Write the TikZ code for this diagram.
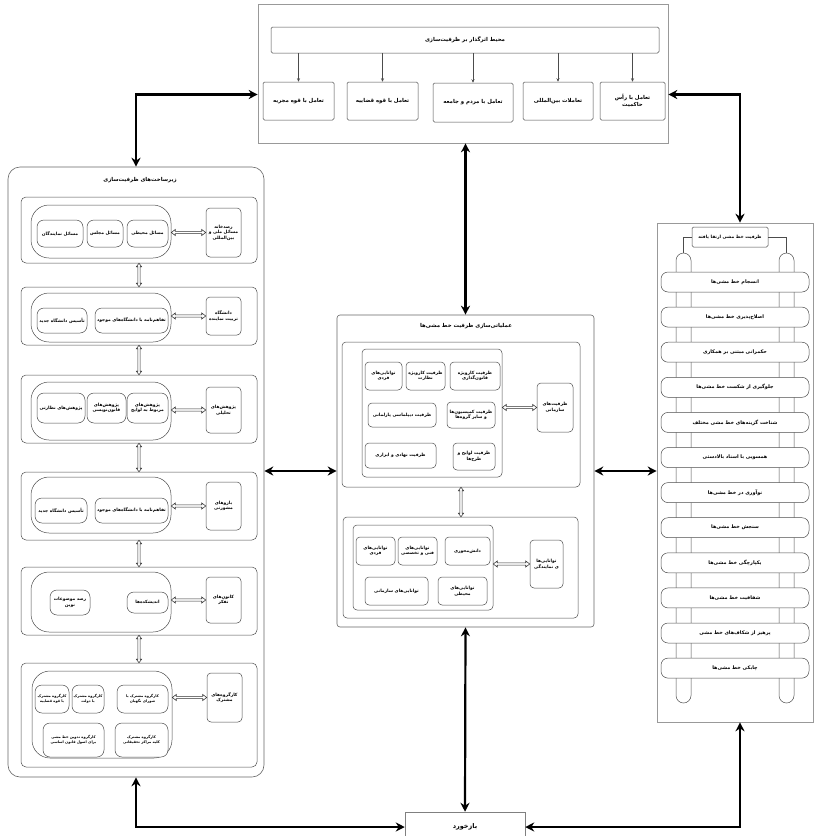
\documentclass[tikz,border=0pt]{standalone}
\usepackage{fontspec}
\usetikzlibrary{arrows.meta,calc}
\TeXXeTstate=1
\newfontfamily\arabicfont[Script=Arabic]{DejaVu Sans}
\newcommand\fa[1]{\beginR #1\endR}
\newcommand\bx[7][]{%
  \pgfmathsetmacro\bxw{(#5)-(#3)}%
  \pgfmathsetmacro\bxh{(#6)-(#4)}%
  \node[#1, minimum width=\bxw pt, minimum height=\bxh pt, inner sep=0pt] (#2) at ({((#3)+(#5))/2},{((#4)+(#6))/2}) {#7};}
% open double-shaft, double-headed arrows
\newcommand\dblH[2]{\draw[dblst] let \p1=(#1), \p2=(#2) in
  (\x1,\y1) -- (\x1+4pt,\y1+3pt) -- (\x1+4pt,\y1+1.1pt) -- (\x2-4pt,\y1+1.1pt) -- (\x2-4pt,\y1+3pt) -- (\x2,\y1)
  -- (\x2-4pt,\y1-3pt) -- (\x2-4pt,\y1-1.1pt) -- (\x1+4pt,\y1-1.1pt) -- (\x1+4pt,\y1-3pt) -- cycle;}
\newcommand\dblV[2]{\draw[dblst] let \p1=(#1), \p2=(#2) in
  (\x1,\y1) -- (\x1+2.6pt,\y1-3.5pt) -- (\x1+1.1pt,\y1-3.5pt) -- (\x1+1.1pt,\y2+3.5pt) -- (\x1+2.6pt,\y2+3.5pt) -- (\x1,\y2)
  -- (\x1-2.6pt,\y2+3.5pt) -- (\x1-1.1pt,\y2+3.5pt) -- (\x1-1.1pt,\y1-3.5pt) -- (\x1-2.6pt,\y1-3.5pt) -- cycle;}
\begin{document}
\begin{tikzpicture}[x=1pt,y=-1pt,
  ln/.style={draw=black!70, line width=0.5pt},
  txt/.style={font=\arabicfont\bfseries\fontsize{4.4}{5.6}\selectfont, align=center, text=black},
  tinytxt/.style={font=\arabicfont\bfseries\fontsize{3.6}{4.8}\selectfont},
  ittxt/.style={font=\arabicfont\bfseries\fontsize{4.9}{6}\selectfont},
  ttl/.style={font=\arabicfont\bfseries\fontsize{5.4}{6.6}\selectfont, align=center, text=black},
  sqb/.style={ln, txt, fill=white, rounded corners=1.5pt},
  rb/.style={ln, txt, fill=white, rounded corners=4pt},
  pl/.style={ln, txt, fill=white, rounded corners=7pt},
  bigpl/.style={ln, fill=white, rounded corners=18pt},
  bigarrow/.style={line width=2.2pt, {Stealth[length=9pt,width=9pt]}-{Stealth[length=9pt,width=9pt]}},
  tarrow/.style={draw=black!70, line width=0.45pt, -{Stealth[length=3.5pt,width=3pt]}},
  dblst/.style={draw=black!80, line width=0.55pt, fill=white, line join=miter},
]
\useasboundingbox (0,0) rectangle (815,836);

% ---------- top ----------
\bx[draw=black!40, line width=0.6pt]{top}{258}{4}{668}{143}{}
\bx[sqb, ttl]{bar}{271}{27}{659}{53}{\fa{محیط اثرگذار بر ظرفیت‌سازی}}
\bx[sqb, ttl]{t1}{263}{82}{334}{120}{\fa{تعامل با قوه مجریه}}
\bx[sqb, ttl]{t2}{347}{82}{418}{120}{\fa{تعامل با قوه قضاییه}}
\bx[sqb, ttl]{t3}{433}{83}{513}{122}{\fa{تعامل با مردم و جامعه}}
\bx[sqb, ttl]{t4}{523}{82}{593}{120}{\fa{تعاملات بین‌المللی}}
\bx[sqb, ttl]{t5}{600}{82}{665}{120}{\fa{تعامل با رأس}\\\fa{حاکمیت}}
\foreach \n in {t1,t2,t3,t4,t5} \draw[tarrow] (\n.north |- bar.south) -- (\n.north);

% ---------- left panel ----------
\bx[draw=black!60, line width=0.6pt, rounded corners=12pt]{L}{8}{167}{264}{777}{}
\node[ttl] (Lt) at (140,180) {\fa{زیرساخت‌های ظرفیت‌سازی}};
\bx[ln, rounded corners=5pt]{r1}{21}{197}{257}{263}{}
\bx[ln, rounded corners=5pt]{r2}{21}{287}{257}{345}{}
\bx[ln, rounded corners=5pt]{r3}{21}{375}{257}{443}{}
\bx[ln, rounded corners=5pt]{r4}{21}{472}{257}{540}{}
\bx[ln, rounded corners=5pt]{r5}{21}{567}{257}{635}{}
\bx[ln, rounded corners=5pt]{r6}{21}{663}{257}{767}{}
\bx[bigpl]{p1}{31}{205}{171}{258}{}
\bx[bigpl]{p2}{31}{293}{171}{342}{}
\bx[bigpl]{p3}{31}{382}{171}{440}{}
\bx[bigpl]{p4}{31}{477}{171}{533}{}
\bx[bigpl]{p5}{31}{572}{171}{632}{}
\bx[bigpl]{p6}{32}{671}{172}{758}{}
\bx[rb]{h1}{206}{208}{241}{257}{\fa{رصدخانه}\\\fa{مسائل ملی و}\\\fa{بین‌المللی}}
\bx[rb]{h2}{206}{297}{241}{335}{\fa{دانشگاه}\\\fa{تربیت نماینده}}
\bx[rb]{h3}{206}{387}{241}{433}{\fa{پژوهش‌های}\\\fa{تحلیلی}}
\bx[rb]{h4}{206}{482}{241}{530}{\fa{بازوهای}\\\fa{مشورتی}}
\bx[rb]{h5}{206}{577}{241}{623}{\fa{کانون‌های}\\\fa{تفکر}}
\bx[rb]{h6}{207}{673}{242}{722}{\fa{کارگروه‌های}\\\fa{مشترک}}
\foreach \i in {1,...,6} {\dblH{p\i.east |- h\i.west}{h\i.west}}
\dblV{r1.south}{r2.north}
\dblV{r2.south}{r3.north}
\dblV{r3.south}{r4.north}
\dblV{r4.south}{r5.north}
\dblV{r5.south}{r6.north}
% row 1
\bx[pl]{a11}{37}{220}{83}{247}{\fa{مسائل نمایندگان}}
\bx[pl]{a12}{87}{220}{123}{247}{\fa{مسائل مجلس}}
\bx[pl]{a13}{127}{220}{168}{247}{\fa{مسائل محیطی}}
% row 2
\bx[pl]{a21}{37}{308}{87}{333}{\fa{تأسیس دانشگاه جدید}}
\bx[pl]{a22}{95}{308}{168}{333}{\fa{تفاهم‌نامه با دانشگاه‌های موجود}}
% row 3
\bx[pl]{a31}{37}{393}{85}{423}{\fa{پژوهش‌های نظارتی}}
\bx[pl]{a32}{87}{393}{126}{423}{\fa{پژوهش‌های}\\\fa{قانون‌نویسی}}
\bx[pl]{a33}{127}{393}{168}{423}{\fa{پژوهش‌های}\\\fa{مربوط به لوایح}}
% row 4
\bx[pl]{a41}{35}{498}{87}{523}{\fa{تأسیس دانشگاه جدید}}
\bx[pl]{a42}{95}{498}{168}{523}{\fa{تفاهم‌نامه با دانشگاه‌های موجود}}
% row 5
\bx[pl]{a51}{50}{590}{90}{615}{\fa{رصد موضوعات}\\\fa{نوین}}
\bx[pl]{a52}{127}{592}{168}{613}{\fa{اندیشکده‌ها}}
% row 6
\bx[pl, tinytxt]{a61}{35}{685}{69}{713}{\fa{کارگروه مشترک}\\\fa{با قوه قضاییه}}
\bx[pl, tinytxt]{a62}{72}{685}{104}{713}{\fa{کارگروه مشترک}\\\fa{با دولت}}
\bx[pl, tinytxt]{a63}{117}{685}{168}{713}{\fa{کارگروه مشترک با}\\\fa{شورای نگهبان}}
\bx[pl, tinytxt]{a64}{43}{723}{104}{757}{\fa{کارگروه تدوین خط مشی}\\\fa{برای اصول قانون اساسی}}
\bx[pl, tinytxt]{a65}{115}{723}{168}{757}{\fa{کارگروه مشترک}\\\fa{کلیه مراکز تحقیقاتی}}

% ---------- center panel ----------
\bx[draw=black!60, line width=0.6pt, rounded corners=3pt]{C}{337}{315}{594}{627}{}
\node[ttl] (Ct) at (466,326) {\fa{عملیاتی‌سازی ظرفیت خط مشی‌ها}};
\bx[ln, rounded corners=4pt]{CU}{342}{342}{580}{487}{}
\bx[ln, rounded corners=4pt]{CUg}{362}{349}{502}{477}{}
\bx[rb]{CUh}{537}{383}{573}{432}{\fa{ظرفیت‌های}\\\fa{سازمانی}}
\dblH{CUg.east |- CUh.west}{CUh.west}
\bx[rb]{c11}{450}{362}{500}{390}{\fa{ظرفیت کارویژه}\\\fa{قانون‌گذاری}}
\bx[rb]{c12}{406}{362}{445}{390}{\fa{ظرفیت کارویژه}\\\fa{نظارت}}
\bx[rb]{c13}{365}{362}{402}{390}{\fa{توانایی‌های}\\\fa{فردی}}
\bx[rb]{c21}{447}{402}{495}{428}{\fa{ظرفیت کمیسیون‌ها}\\\fa{و سایر گروه‌ها}}
\bx[rb]{c22}{368}{403}{436}{427}{\fa{ظرفیت دیپلماسی پارلمانی}}
\bx[rb]{c31}{453}{443}{495}{470}{\fa{ظرفیت لوایح و}\\\fa{طرح‌ها}}
\bx[rb]{c32}{365}{443}{436}{468}{\fa{ظرفیت نهادی و ابزاری}}
\bx[ln, rounded corners=4pt]{CL}{343}{517}{578}{618}{}
\bx[ln, rounded corners=4pt]{CLg}{353}{525}{493}{610}{}
\bx[rb]{CLh}{530}{540}{563}{588}{\fa{توانایی‌ها}\\\fa{ی نمایندگی}}
\dblH{CLg.east |- CLh.west}{CLh.west}
\dblV{CU.south}{CL.north}
\bx[rb]{d11}{445}{537}{490}{565}{\fa{دانش‌محوری}}
\bx[rb]{d12}{398}{537}{437}{565}{\fa{توانایی‌های}\\\fa{فنی و تخصصی}}
\bx[rb]{d13}{356}{537}{395}{565}{\fa{توانایی‌های}\\\fa{فردی}}
\bx[rb]{d21}{438}{577}{487}{605}{\fa{توانایی‌های}\\\fa{محیطی}}
\bx[rb]{d22}{365}{577}{428}{605}{\fa{توانایی‌های سازمانی}}

% ---------- right panel ----------
\bx[draw=black!40, line width=0.6pt]{R}{657}{223}{813}{722}{}
\bx[ln, rounded corners=7.5pt]{railL}{676}{253}{691}{703}{}
\bx[ln, rounded corners=7.5pt]{railR}{779}{253}{794}{703}{}
\bx[sqb, txt]{Rt}{692}{227}{768}{247}{\fa{ظرفیت خط مشی ارتقا یافته}}
\draw[ln] (Rt.west) -| (railL.north);
\draw[ln] (Rt.east) -| (railR.north);
\foreach \i/\t in {0/{انسجام خط مشی‌ها},1/{اصلاح‌پذیری خط مشی‌ها},2/{حکمرانی مبتنی بر همکاری},3/{جلوگیری از شکست خط مشی‌ها},4/{شناخت گزینه‌های خط مشی مختلف},5/{همسویی با اسناد بالادستی},6/{نوآوری در خط مشی‌ها},7/{سنجش خط مشی‌ها},8/{یکپارچگی خط مشی‌ها},9/{شفافیت خط مشی‌ها},10/{پرهیز از شکاف‌های خط مشی},11/{چابکی خط مشی‌ها}}
  \bx[pl, ittxt]{it\i}{661}{272+35.1*\i}{809}{292+35.1*\i}{\fa{\t}};

% ---------- feedback ----------
\bx[draw=black!50, line width=0.5pt, fill=white, font=\arabicfont\bfseries\fontsize{6.5}{8}\selectfont]{FB}{405}{812}{525}{842}{\beginR بازخورد\endR}

% ---------- thick arrows ----------
\draw[bigarrow] ([yshift=-21pt]top.west) -| (L.north);
\draw[bigarrow] ([yshift=-21pt]top.east) -| ([xshift=5pt]R.north);
\draw[bigarrow] (C.north |- top.south) -- (C.north);
\draw[bigarrow] (C.west -| L.east) -- (C.west);
\draw[bigarrow] (C.east) -- (C.east -| R.west);
\draw[bigarrow] (C.south) -- (FB.north);
\draw[bigarrow] (L.south) |- (FB.west);
\draw[bigarrow] ([xshift=5pt]R.south) |- (FB.east);
\end{tikzpicture}
\end{document}
